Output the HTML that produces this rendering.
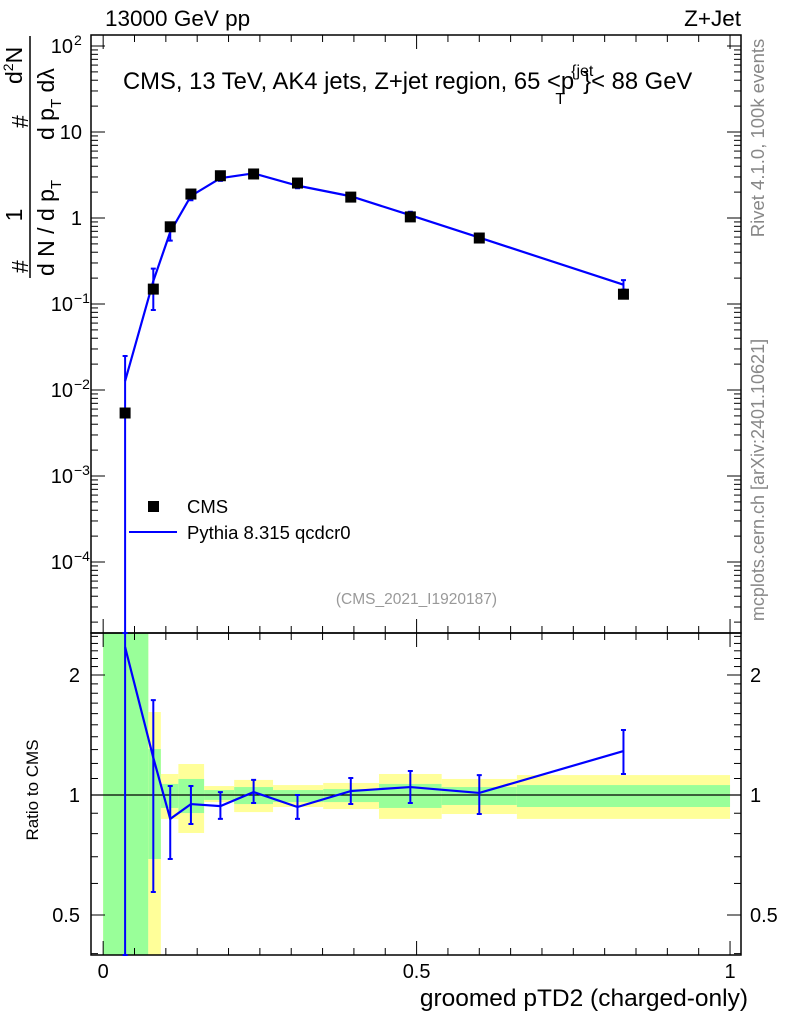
<!DOCTYPE html>
<html><head><meta charset="utf-8"><style>
html,body{margin:0;padding:0;background:#fff}
svg{display:block;font-family:"Liberation Sans",Arial,sans-serif}
</style></head><body>
<svg id="c" width="786" height="1024" viewBox="0 0 786 1024">
<g id="bands"></g>
<g id="axes"></g>
<g id="series"></g>
<text x="105" y="26" font-size="22.5">13000 GeV pp</text>
<text x="741" y="26" font-size="22.5" text-anchor="end">Z+Jet</text>
<text x="123" y="89" font-size="23.8">CMS, 13 TeV, AK4 jets, Z+jet region, 65 &lt;p<tspan font-size="16" dy="-13" dx="-3">{jet</tspan><tspan font-size="16" dx="-38" dy="28">T</tspan><tspan dy="-15" dx="18">}&lt; 88 GeV</tspan></text>
<g>
<rect x="148" y="501" width="11" height="11" fill="#000"/>
<text x="187" y="513" font-size="18.5">CMS</text>
<line x1="129" y1="532" x2="177" y2="532" stroke="#0000ff" stroke-width="2"/>
<text x="187" y="539" font-size="18.5">Pythia 8.315 qcdcr0</text>
</g>
<text x="497" y="604" font-size="15.5" fill="#999" text-anchor="end">(CMS_2021_I1920187)</text>
<text transform="translate(764,138) rotate(-90)" font-size="18.5" fill="#888" text-anchor="middle">Rivet 4.1.0,  100k events</text>
<text transform="translate(764,480) rotate(-90)" font-size="18" fill="#888" text-anchor="middle">mcplots.cern.ch [arXiv:2401.10621]</text>
<text x="748" y="1006" font-size="24.5" text-anchor="end">groomed pTD2 (charged-only)</text>
<text transform="translate(38,790) rotate(-90)" font-size="17" text-anchor="middle">Ratio to CMS</text>
<g font-size="23">
<text transform="translate(28,273) rotate(-90)">#</text>
<text transform="translate(22,215) rotate(-90)" text-anchor="middle">1</text>
<line x1="30" y1="278" x2="30" y2="36" stroke="#000" stroke-width="1.5"/>
<text transform="translate(54,276) rotate(-90)">d N / d p<tspan font-size="15" dy="7">T</tspan></text>
<text transform="translate(28,128) rotate(-90)">#</text>
<text transform="translate(54,140) rotate(-90)">d p<tspan font-size="15" dy="7">T</tspan><tspan dy="-7">  dλ</tspan></text>
<text transform="translate(22,84) rotate(-90)">d<tspan font-size="14" dy="-9">2</tspan><tspan dy="9">N</tspan></text>
</g>
</svg>
<script>
const xVals=[0.035,0.080,0.107,0.140,0.187,0.240,0.310,0.395,0.490,0.600,0.830];
const cmsVals=[0.0054,0.149,0.79,1.90,3.10,3.25,2.55,1.75,1.03,0.585,0.130];
const pythiaRatio=[2.35,1.24,0.871,0.949,0.938,1.017,0.933,1.023,1.047,1.012,1.289];
const pythiaRatioHi=[4.6,1.73,1.053,1.053,1.017,1.091,1.0,1.103,1.149,1.122,1.456];
const pythiaRatioLo=[0.0005,0.571,0.691,0.846,0.871,0.955,0.871,0.949,0.955,0.896,1.129];
const binEdges=[0,0.072,0.092,0.12,0.161,0.209,0.271,0.351,0.44,0.54,0.66,1.0];
const statHi=[3,1.304,1.066,1.097,1.029,1.047,1.029,1.035,1.066,1.047,1.059];
const statLo=[0.3,0.691,0.928,0.901,0.972,0.949,0.960,0.960,0.928,0.944,0.933];
const totHi=[3,1.615,1.129,1.196,1.053,1.091,1.059,1.072,1.129,1.097,1.122];
const totLo=[0.3,0.3,0.871,0.803,0.960,0.906,0.933,0.922,0.871,0.896,0.871];
const ratioTicks=[0.5,1,2];
const xTickLabels=[0,0.5,1];
const NS='http://www.w3.org/2000/svg';
const L=91,R=741,T=35,MB=633,RB=955,XMIN=-0.0194,XMAX=1.0175;
const sx=v=>L+(v-XMIN)/(XMAX-XMIN)*(R-L);
const syMain=v=>218-86*Math.log10(v);
const syR=v=>795-120*Math.log2(v);
const clampR=y=>Math.max(MB,Math.min(RB,y));
const clampM=y=>Math.max(T,Math.min(MB,y));
function mk(tag,attrs,parent){const e=document.createElementNS(NS,tag);for(const k in attrs)e.setAttribute(k,attrs[k]);parent.appendChild(e);return e;}
const bands=document.getElementById('bands'),axes=document.getElementById('axes'),series=document.getElementById('series');
for(let i=0;i<binEdges.length-1;i++){
  const x0=sx(binEdges[i]),x1=sx(binEdges[i+1]);
  let y0=clampR(syR(totHi[i])),y1=clampR(syR(totLo[i]));
  const r1=mk('rect',{x:x0,y:y0,width:x1-x0,height:y1-y0,fill:'#ffff99'},bands);
  
  
  y0=clampR(syR(statHi[i]));y1=clampR(syR(statLo[i]));
  const r2=mk('rect',{x:x0,y:y0,width:x1-x0,height:y1-y0,fill:'#99ff99'},bands);
  
  
}
const f1=mk('rect',{x:L,y:T,width:R-L,height:MB-T,fill:'none',stroke:'#000','stroke-width':1.5},axes);


const f2=mk('rect',{x:L,y:MB,width:R-L,height:RB-MB,fill:'none',stroke:'#000','stroke-width':1.5},axes);


const one=mk('line',{x1:L,x2:R,y1:syR(1),y2:syR(1),stroke:'#000','stroke-width':1.2},axes);


for(let k=0;k<=20;k++){const v=k*0.05,x=sx(v),len=(k%10==0)?14:7;
  [[T,1],[MB,-1],[MB,1],[RB,-1]].forEach(([y,d])=>{const t=mk('line',{x1:x,x2:x,y1:y,y2:y+d*len,stroke:'#000','stroke-width':1},axes);
  
  });}
xTickLabels.forEach(v=>{const t=mk('text',{x:sx(v),y:978,'font-size':20,'text-anchor':'middle'},axes);t.textContent=String(v);
  
  });
for(let e=-5;e<=2;e++){for(let m=1;m<10;m++){const v=m*Math.pow(10,e),y=syMain(v);if(y<T||y>MB)continue;const len=m==1?14:7;
  [[L,1],[R,-1]].forEach(([x,d])=>{const t=mk('line',{x1:x,x2:x+d*len,y1:y,y2:y,stroke:'#000','stroke-width':1},axes);
  
  });}}
const yl=[[2,'10','2'],[1,'10',''],[0,'1',''],[-1,'10','−1'],[-2,'10','−2'],[-3,'10','−3'],[-4,'10','−4']];
yl.forEach(([e,b,s])=>{const t=mk('text',{x:s?73:82,y:syMain(Math.pow(10,e))+7,'font-size':20,'text-anchor':'end'},axes);
  t.textContent=b;
  
  
  if(s){const u=mk('text',{x:74,y:syMain(Math.pow(10,e))-1,'font-size':14},axes);u.textContent=s;
  
  }});
for(let v=0.4;v<2.6;v+=0.1){const y=syR(v);if(y<MB||y>RB)continue;const maj=ratioTicks.some(r=>Math.abs(r-v)<1e-6);const len=maj?14:7;
  [[L,1],[R,-1]].forEach(([x,d])=>{const t=mk('line',{x1:x,x2:x+d*len,y1:y,y2:y,stroke:'#000','stroke-width':1},axes);
  
  });}
ratioTicks.forEach(v=>{[[80,'end'],[750,'start']].forEach(([x,a])=>{const t=mk('text',{x:x,y:syR(v)+7,'font-size':20,'text-anchor':a},axes);t.textContent=String(v);
  
  });});
const pv=cmsVals.map((c,i)=>c*pythiaRatio[i]);
const pl=mk('polyline',{points:xVals.map((x,i)=>sx(x)+','+syMain(pv[i])).join(' '),fill:'none',stroke:'#0000ff','stroke-width':2.2},series);


xVals.forEach((x,i)=>{const X=sx(x);const y0=clampM(syMain(cmsVals[i]*pythiaRatioHi[i])),y1=clampM(syMain(cmsVals[i]*pythiaRatioLo[i]));
  const e=mk('path',{d:`M${X},${y0}V${y1}M${X-2.5},${y0}h5M${X-2.5},${y1}h5`,stroke:'#0000ff','stroke-width':2,fill:'none'},series);
  
  });
xVals.forEach((x,i)=>{const r=mk('rect',{x:sx(x)-5.5,y:syMain(cmsVals[i])-5.5,width:11,height:11,fill:'#000'},series);
  
  });
const rl=mk('polyline',{points:xVals.map((x,i)=>sx(x)+','+clampR(syR(pythiaRatio[i]))).join(' '),fill:'none',stroke:'#0000ff','stroke-width':2.2},series);


xVals.forEach((x,i)=>{const X=sx(x);const y0=clampR(syR(pythiaRatioHi[i])),y1=clampR(syR(pythiaRatioLo[i]));
  const e=mk('path',{d:`M${X},${y0}V${y1}M${X-2.5},${y0}h5M${X-2.5},${y1}h5`,stroke:'#0000ff','stroke-width':2,fill:'none'},series);
  
  });
</script>
</body></html>
